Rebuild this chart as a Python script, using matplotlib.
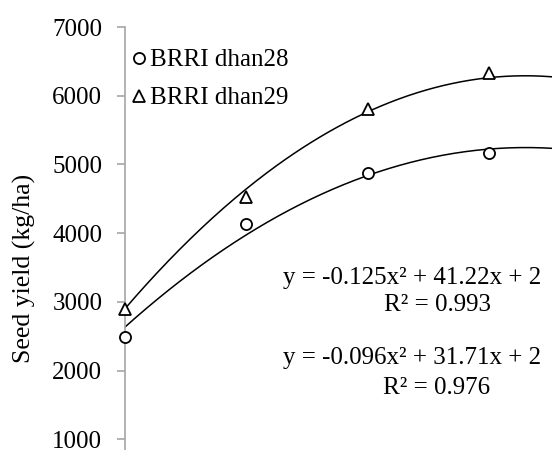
import numpy as np
import matplotlib
matplotlib.use('Agg')
import matplotlib.pyplot as plt

plt.rcParams['font.family'] = ['Liberation Serif', 'DejaVu Serif']

# nitrogen levels (evenly spaced) and seed yield
x_levels = [0, 50, 100, 150]
dhan28 = [2490, 4130, 4875, 5165]
dhan29 = [2895, 4530, 5805, 6330]

# quadratic trend lines from the equations on the chart (intercepts estimated)
coef28 = [-0.096, 31.71, 2627]
coef29 = [-0.125, 41.22, 2892]

yticks = [1000, 2000, 3000, 4000, 5000, 6000, 7000]

W, H = 552, 450
fig = plt.figure(figsize=(W / 100, H / 100), dpi=100)
# the picture is cut on the right and at the bottom, so the axes run past the figure
ax = fig.add_axes([124.5 / W, 1 - 508 / H, 437.4 / W, 481 / H])

xs = np.linspace(0, 180, 200)
ax.plot(xs, np.polyval(coef29, xs), color='black', lw=1.1)
ax.plot(xs, np.polyval(coef28, xs), color='black', lw=1.1)

ax.plot(x_levels, dhan28, 'o', ms=8, mfc='white', mec='black', mew=1.3,
        label='BRRI dhan28', clip_on=False, zorder=3)
ax.plot(x_levels, dhan29, '^', ms=8, mfc='white', mec='black', mew=1.3,
        label='BRRI dhan29', clip_on=False, zorder=3)

ax.set_xlim(0, 180)
ax.set_ylim(0, 7000)
ax.set_yticks(yticks)
ax.set_xticks([])
for s in ['top', 'right', 'bottom']:
    ax.spines[s].set_visible(False)
ax.spines['left'].set_color('#a6a6a6')
ax.spines['left'].set_linewidth(1.2)
ax.tick_params(axis='y', direction='out', length=6, width=1.2, color='#a6a6a6',
               labelsize=18, pad=10)

ax.set_ylabel('Seed yield (kg/ha)', fontsize=18.5)
ax.yaxis.set_label_coords(-0.202, (508 - 268.5) / 481)

ax.legend(loc='upper left', bbox_to_anchor=(131 / W, 1 - 49 / H),
          bbox_transform=fig.transFigure, frameon=False, fontsize=18,
          handlelength=0.6, handletextpad=0.15, labelspacing=0.62,
          borderpad=0, borderaxespad=0)

fig.text(283 / W, 1 - 278 / H, 'y = -0.125x² + 41.22x + 2', fontsize=18,
         ha='left', va='center')
fig.text(437 / W, 1 - 305 / H, 'R² = 0.993', fontsize=18, ha='center', va='center')
fig.text(283 / W, 1 - 358 / H, 'y = -0.096x² + 31.71x + 2', fontsize=18,
         ha='left', va='center')
fig.text(437 / W, 1 - 388 / H, 'R² = 0.976', fontsize=18, ha='center', va='center')

plt.savefig('out.png', dpi=100)
